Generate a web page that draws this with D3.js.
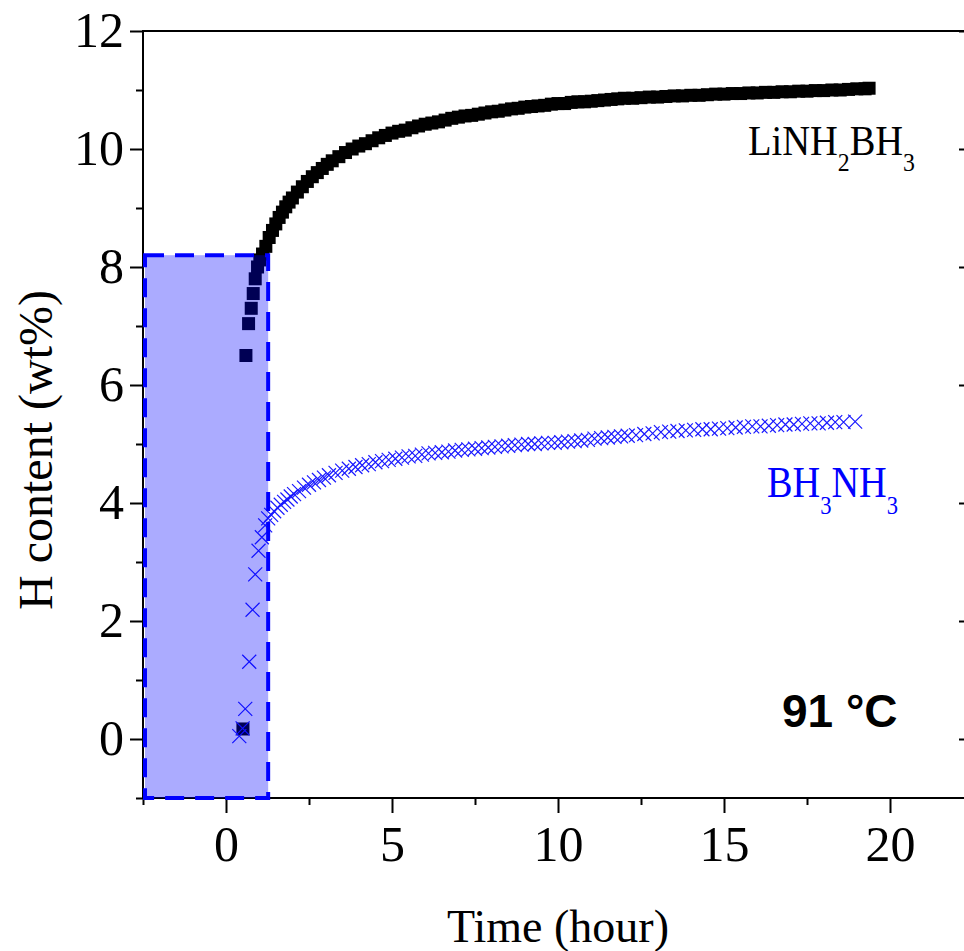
<!DOCTYPE html>
<html>
<head>
<meta charset="utf-8">
<script src="https://cdn.jsdelivr.net/npm/d3@7"></script>
<style>
  html, body { margin: 0; padding: 0; background: #fff; }
  svg { display: block; }
</style>
</head>
<body>
<svg id="chart" width="964" height="951"></svg>
<script>
// ---- data ----
const liTime = [0.51, 0.6, 0.68, 0.76, 0.82, 0.88, 0.95, 1.02, 1.1, 1.2, 1.3, 1.4, 1.5, 1.6, 1.7, 1.8, 1.9, 2.0, 2.15, 2.3, 2.45, 2.6, 2.75, 2.9, 3.05, 3.2, 3.4, 3.6, 3.8, 4.0, 4.2, 4.4, 4.6, 4.8, 5.0, 5.2, 5.4, 5.6, 5.8, 6.0, 6.2, 6.4, 6.6, 6.8, 7.0, 7.2, 7.4, 7.6, 7.8, 8.0, 8.2, 8.4, 8.6, 8.8, 9.0, 9.2, 9.4, 9.6, 9.8, 10.0, 10.2, 10.4, 10.6, 10.8, 11.0, 11.2, 11.4, 11.6, 11.8, 12.0, 12.25, 12.5, 12.75, 13.0, 13.25, 13.5, 13.75, 14.0, 14.25, 14.5, 14.75, 15.0, 15.25, 15.5, 15.75, 16.0, 16.25, 16.5, 16.75, 17.0, 17.25, 17.5, 17.75, 18.0, 18.25, 18.5, 18.75, 19.0, 19.25, 19.37];
const liValue = [0.17, 6.5, 7.04, 7.3, 7.55, 7.8, 8.0, 8.12, 8.22, 8.35, 8.5, 8.62, 8.73, 8.84, 8.93, 9.02, 9.1, 9.17, 9.27, 9.36, 9.45, 9.53, 9.6, 9.67, 9.74, 9.8, 9.87, 9.94, 10.0, 10.05, 10.09, 10.14, 10.19, 10.23, 10.27, 10.3, 10.32, 10.36, 10.39, 10.42, 10.44, 10.46, 10.49, 10.52, 10.54, 10.56, 10.57, 10.59, 10.61, 10.63, 10.64, 10.66, 10.68, 10.69, 10.71, 10.72, 10.73, 10.74, 10.76, 10.77, 10.77, 10.79, 10.8, 10.8, 10.81, 10.82, 10.83, 10.84, 10.85, 10.86, 10.86, 10.87, 10.88, 10.88, 10.89, 10.9, 10.9, 10.91, 10.91, 10.92, 10.93, 10.93, 10.94, 10.94, 10.95, 10.95, 10.96, 10.96, 10.97, 10.97, 10.98, 10.98, 10.99, 10.99, 11.0, 11.0, 11.01, 11.02, 11.02, 11.03];

const abTime = [0.4, 0.5, 0.58, 0.7, 0.8, 0.88, 0.98, 1.08, 1.18, 1.27, 1.36, 1.45, 1.55, 1.65, 1.75, 1.85, 1.95, 2.05, 2.2, 2.35, 2.5, 2.65, 2.8, 2.95, 3.1, 3.3, 3.5, 3.7, 3.9, 4.1, 4.3, 4.5, 4.7, 4.9, 5.1, 5.3, 5.5, 5.7, 5.9, 6.1, 6.3, 6.5, 6.7, 6.9, 7.1, 7.3, 7.5, 7.7, 7.9, 8.1, 8.3, 8.5, 8.7, 8.9, 9.1, 9.3, 9.5, 9.7, 9.9, 10.1, 10.3, 10.5, 10.7, 10.9, 11.1, 11.3, 11.5, 11.7, 11.9, 12.1, 12.35, 12.6, 12.85, 13.1, 13.35, 13.6, 13.85, 14.1, 14.35, 14.6, 14.85, 15.1, 15.35, 15.6, 15.85, 16.1, 16.35, 16.6, 16.85, 17.1, 17.35, 17.6, 17.85, 18.1, 18.35, 18.6, 18.95];
const abValue = [0.05, 0.18, 0.51, 1.31, 2.19, 2.79, 3.19, 3.42, 3.62, 3.74, 3.8, 3.86, 3.92, 3.97, 4.02, 4.06, 4.11, 4.15, 4.2, 4.26, 4.31, 4.35, 4.39, 4.43, 4.47, 4.51, 4.55, 4.58, 4.61, 4.64, 4.66, 4.69, 4.71, 4.73, 4.75, 4.77, 4.79, 4.8, 4.82, 4.84, 4.85, 4.86, 4.87, 4.89, 4.9, 4.91, 4.92, 4.93, 4.94, 4.95, 4.96, 4.97, 4.98, 4.99, 5.0, 5.0, 5.01, 5.02, 5.02, 5.03, 5.04, 5.05, 5.06, 5.07, 5.09, 5.1, 5.11, 5.12, 5.13, 5.14, 5.15, 5.17, 5.18, 5.2, 5.21, 5.22, 5.23, 5.24, 5.25, 5.25, 5.26, 5.27, 5.28, 5.29, 5.3, 5.3, 5.31, 5.32, 5.33, 5.33, 5.34, 5.35, 5.35, 5.36, 5.37, 5.37, 5.38];

const xTicks = [0, 5, 10, 15, 20];
const xMinorTicks = [-2.5, 2.5, 7.5, 12.5, 17.5];
const yTicks = [0, 2, 4, 6, 8, 10, 12];
const yMinorTicks = [-1, 1, 3, 5, 7, 9, 11];
const highlightBox = { t0: -2.5, t1: 1.27, v0: -1, v1: 8.2 };
const xTitle = "Time (hour)";
const yTitle = "H content (wt%)";
const tempLabel = "91 \u00B0C";

// ---- layout ----
const svg = d3.select("#chart");
const X0 = 143, X1 = 973, Y0 = 31, Y1 = 798;
const x = d3.scaleLinear().domain([-2.5, 22.5]).range([X0, X1]);
const y = d3.scaleLinear().domain([-1, 12]).range([Y1, Y0]);
const serif = "'Liberation Serif', 'Times New Roman', serif";

// frame
svg.append("rect").attr("x", X0).attr("y", Y0).attr("width", X1 - X0).attr("height", Y1 - Y0)
  .attr("fill", "none").attr("stroke", "#000").attr("stroke-width", 2);

function styleAxis(g) {
  g.select(".domain").remove();
  g.selectAll(".tick line").attr("stroke", "#000").attr("stroke-width", 2);
  g.selectAll(".tick text").attr("fill", "#000").style("font-family", serif).style("font-size", "50px");
}

// bottom axis
svg.append("g").attr("transform", `translate(0,${Y1})`)
  .call(d3.axisBottom(x).tickValues(xTicks).tickSize(15).tickPadding(50).tickFormat(d3.format("d")))
  .call(styleAxis)
  .call(g => g.selectAll(".tick text").attr("dy", 0).attr("y", 63));
svg.append("g").attr("transform", `translate(0,${Y1})`)
  .call(d3.axisBottom(x).tickValues(xMinorTicks).tickSize(7).tickFormat(""))
  .call(styleAxis);

// left axis
svg.append("g").attr("transform", `translate(${X0},0)`)
  .call(d3.axisLeft(y).tickValues(yTicks).tickSize(13).tickPadding(6).tickFormat(d3.format("d")))
  .call(styleAxis)
  .call(g => g.selectAll(".tick text").attr("dy", "0.3em"));
svg.append("g").attr("transform", `translate(${X0},0)`)
  .call(d3.axisLeft(y).tickValues(yMinorTicks).tickSize(7).tickFormat(""))
  .call(styleAxis);

// right axis (inward ticks)
svg.append("g").attr("transform", `translate(${X1},0)`)
  .call(d3.axisLeft(y).tickValues(yTicks).tickSize(14).tickFormat(""))
  .call(styleAxis);

// LiNH2BH3 squares
const li = liTime.map((t, i) => ({ t, v: liValue[i] }));
svg.append("g").selectAll("rect").data(li).join("rect")
  .attr("x", d => x(d.t) - 6.5).attr("y", d => y(d.v) - 6.5)
  .attr("width", 13).attr("height", 13).attr("fill", "#000");

// BH3NH3 crosses
const ab = abTime.map((t, i) => ({ t, v: abValue[i] }));
svg.append("g").selectAll("path").data(ab).join("path")
  .attr("transform", d => `translate(${x(d.t)},${y(d.v)})`)
  .attr("d", "M-7,-7L7,7M-7,7L7,-7")
  .attr("stroke", "#1a1aff").attr("stroke-width", 1.2).attr("fill", "none");

// highlight box (semi-transparent overlay)
svg.append("rect")
  .attr("x", x(highlightBox.t0) + 2).attr("y", y(highlightBox.v1))
  .attr("width", x(highlightBox.t1) - x(highlightBox.t0) - 2)
  .attr("height", y(highlightBox.v0) - y(highlightBox.v1))
  .attr("fill", "#0000ff").attr("fill-opacity", 0.33)
  .attr("stroke", "#0000ff").attr("stroke-width", 4).attr("stroke-dasharray", "19,11");

// series labels
const lab1 = svg.append("text").attr("x", 748).attr("y", 155)
  .attr("textLength", 167).attr("lengthAdjust", "spacingAndGlyphs")
  .style("font-family", serif).style("font-size", "42px").attr("fill", "#000");
lab1.append("tspan").text("LiNH");
lab1.append("tspan").attr("dy", 16).style("font-size", "26px").text("2");
lab1.append("tspan").attr("dy", -16).text("BH");
lab1.append("tspan").attr("dy", 16).style("font-size", "26px").text("3");

const lab2 = svg.append("text").attr("x", 767).attr("y", 497)
  .attr("textLength", 131).attr("lengthAdjust", "spacingAndGlyphs")
  .style("font-family", serif).style("font-size", "44px").attr("fill", "#0000ff");
lab2.append("tspan").text("BH");
lab2.append("tspan").attr("dy", 17).style("font-size", "26px").text("3");
lab2.append("tspan").attr("dy", -17).text("NH");
lab2.append("tspan").attr("dy", 17).style("font-size", "26px").text("3");

// temperature label
svg.append("text").attr("x", 782).attr("y", 727)
  .style("font-family", "'Liberation Sans', Arial, sans-serif").style("font-size", "46px")
  .style("font-weight", "bold").attr("fill", "#000").text(tempLabel);

// axis titles
svg.append("text").attr("x", 558).attr("y", 942).attr("text-anchor", "middle")
  .style("font-family", serif).style("font-size", "46px").attr("fill", "#000").text(xTitle);
svg.append("text").attr("transform", "translate(52,450) rotate(-90)").attr("text-anchor", "middle")
  .style("font-family", serif).style("font-size", "48px").attr("fill", "#000").text(yTitle);
</script>
</body>
</html>
